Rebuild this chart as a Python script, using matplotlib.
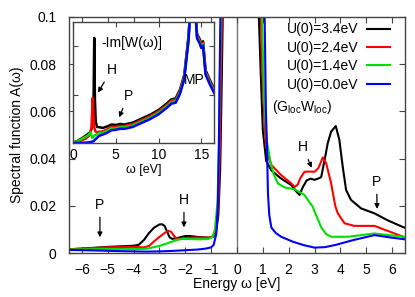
import matplotlib
matplotlib.use("Agg")
import matplotlib.pyplot as plt
import numpy as np

plt.rcParams["font.family"] = ["Liberation Sans", "DejaVu Sans"]
plt.rcParams["mathtext.fontset"] = "custom"
plt.rcParams["mathtext.rm"] = "Liberation Sans"

labels = ["U(0)=3.4eV", "U(0)=2.4eV", "U(0)=1.4eV", "U(0)=0.0eV"]
colors = ["#000000", "#ff0000", "#00e000", "#0000ff"]

# spectral function A(w)
w_black = [-6.5, -6.0, -5.0, -4.0, -3.8, -3.6, -3.4, -3.2, -3.0, -2.9, -2.8, -2.7, -2.6, -2.5, -2.3, -2.0,
           -1.8, -1.5, -1.2, -1.0, -0.9, -0.8, -0.72, -0.65, -0.6, -0.55, -0.5,
           0.8, 0.85, 0.91, 1.0, 1.13, 1.33, 1.7, 2.1, 2.3, 2.42, 2.55, 2.7, 2.85, 3.0, 3.2, 3.26, 3.4, 3.51,
           3.64, 3.82, 3.96, 4.09, 4.22, 4.41, 4.8, 5.32, 5.8, 6.4, 6.5]
a_black = [0.0016, 0.0019, 0.0026, 0.0031, 0.0035, 0.0055, 0.0085, 0.0108, 0.0121, 0.0122, 0.0115, 0.0090,
           0.0066, 0.0060, 0.0064, 0.0072, 0.0072, 0.0068, 0.0066, 0.0066, 0.0070, 0.0095, 0.016, 0.035,
           0.065, 0.1, 0.15,
           0.15, 0.099, 0.079, 0.052, 0.039, 0.035, 0.0316, 0.0288, 0.026, 0.0246, 0.028, 0.0308, 0.0315,
           0.031, 0.0318, 0.0323, 0.040, 0.0465, 0.0514, 0.0538, 0.0479, 0.0366, 0.0267, 0.0225, 0.0189,
           0.0168, 0.014, 0.0111, 0.0107]

w_red = [-6.5, -5.0, -4.0, -3.6, -3.4, -3.2, -3.0, -2.8, -2.65, -2.55, -2.45, -2.35, -2.2, -2.0, -1.5, -1.1,
         -0.9, -0.8, -0.72, -0.66, -0.62, -0.58, -0.53,
         0.85, 0.92, 1.0, 1.1, 1.2, 1.33, 1.71, 2.1, 2.23, 2.35, 2.45, 2.61, 2.8, 3.0, 3.15, 3.32, 3.45,
         3.64, 3.8, 3.9, 4.16, 4.54, 5.32, 5.8, 6.5]
a_red = [0.0016, 0.0024, 0.0026, 0.0024, 0.0030, 0.0050, 0.0068, 0.0085, 0.0094, 0.0090, 0.0075, 0.0062,
         0.0060, 0.0064, 0.0066, 0.0064, 0.0072, 0.011, 0.02, 0.045, 0.075, 0.1, 0.15,
         0.15, 0.1, 0.07, 0.048, 0.041, 0.0373, 0.033, 0.0295, 0.028, 0.029, 0.0317, 0.0344, 0.0345,
         0.0344, 0.036, 0.0405, 0.038, 0.0296, 0.020, 0.0168, 0.0126, 0.0115, 0.0115, 0.0095, 0.0066]

w_green = [-6.5, -5.0, -4.0, -3.5, -3.0, -2.6, -2.3, -2.1, -1.8, -1.4, -1.1, -0.95, -0.85, -0.75, -0.7,
           -0.66, -0.62, -0.57,
           0.9, 0.97, 1.05, 1.15, 1.27, 1.4, 1.58, 1.84, 2.23, 2.61, 2.93, 3.1, 3.25, 3.45, 3.64, 4.3,
           5.32, 6.5]
a_green = [0.0015, 0.0017, 0.0017, 0.0018, 0.0030, 0.0045, 0.0056, 0.0060, 0.0059, 0.0058, 0.0060,
           0.0068, 0.010, 0.022, 0.045, 0.075, 0.1, 0.15,
           0.15, 0.1, 0.065, 0.048, 0.040, 0.034, 0.0295, 0.0278, 0.027, 0.0246, 0.0196, 0.015, 0.0111,
           0.0080, 0.0069, 0.0069, 0.0083, 0.0068]

w_blue = [-6.5, -5.5, -4.5, -3.5, -3.0, -2.5, -2.0, -1.5, -1.2, -1.0, -0.9, -0.8, -0.74, -0.7, -0.67,
          -0.64, -0.6,
          1.0, 1.07, 1.12, 1.16, 1.2, 1.25, 1.33, 1.5, 1.71, 2.16, 2.6, 3.0, 3.4, 3.8, 4.5, 5.32, 6.0, 6.5]
a_blue = [0.0013, 0.0011, 0.0008, 0.0006, 0.0007, 0.0009, 0.0012, 0.0015, 0.0019, 0.0024, 0.0035,
          0.008, 0.02, 0.045, 0.075, 0.1, 0.15,
          0.15, 0.1, 0.06, 0.045, 0.025, 0.016, 0.0108, 0.0085, 0.0069, 0.0048, 0.0033, 0.0023, 0.0025,
          0.0034, 0.0055, 0.0076, 0.0065, 0.0058]

# inset: -Im W(w)
iw_black = [0, 0.5, 1.0, 1.6, 2.0, 2.3, 2.4, 2.48, 2.56, 2.65, 2.8, 3.5, 4.0, 4.5, 5.0, 5.5, 6.0, 7.0, 8.0,
            9.0, 10.0, 11.0, 11.5, 12.0, 12.5, 13.0, 13.5, 13.8, 14.2, 14.5, 14.8, 15.0, 15.2, 15.5, 16.0,
            16.5]
iv_black = [0.0, 0.04, 0.09, 0.165, 0.22, 0.35, 0.9, 2.17, 0.9, 0.45, 0.33, 0.31, 0.34, 0.38, 0.37,
            0.39, 0.38, 0.42, 0.50, 0.58, 0.68, 0.82, 0.90, 0.92, 1.10, 1.40, 2.20, 3.0, 3.0, 2.25, 2.15,
            2.05, 2.1, 1.5, 1.3, 1.12]
iw_red = [0, 0.5, 1.0, 1.5, 1.9, 2.15, 2.3, 2.45, 2.6, 2.8, 3.5, 4.0, 4.5, 5.0, 5.5, 6.0, 7.0, 8.0,
          9.0, 10.0, 11.0, 11.5, 12.0, 12.5, 13.0, 13.5, 13.8, 14.2, 14.5, 14.8, 15.0, 15.2, 15.5, 16.0,
          16.5]
iv_red = [0.0, 0.02, 0.05, 0.09, 0.15, 0.3, 0.93, 0.35, 0.24, 0.22, 0.24, 0.28, 0.33, 0.33, 0.35, 0.35,
          0.39, 0.47, 0.55, 0.65, 0.79, 0.87, 0.89, 1.07, 1.37, 2.17, 3.0, 3.0, 2.22, 2.12, 2.02, 2.07,
          1.47, 1.27, 1.09]
iw_green = [0, 0.5, 0.8, 1.3, 1.8, 2.05, 2.25, 2.5, 3.0, 3.5, 4.0, 4.5, 5.0, 5.5, 6.0, 7.0, 8.0, 9.0,
            10.0, 11.0, 11.5, 12.0, 12.5, 13.0, 13.5, 13.8, 14.2, 14.5, 14.8, 15.0, 15.2, 15.5, 16.0,
            16.5]
iv_green = [0.0, 0.03, 0.06, 0.11, 0.16, 0.22, 0.1, 0.15, 0.2, 0.21, 0.25, 0.30, 0.30, 0.32, 0.32, 0.36,
            0.44, 0.52, 0.62, 0.76, 0.84, 0.86, 1.04, 1.34, 2.14, 3.0, 3.0, 2.19, 2.09, 1.99, 2.04, 1.44,
            1.24, 1.06]
iw_blue = [0, 1.0, 1.8, 2.37, 3.0, 3.9, 4.5, 5.0, 5.5, 6.0, 7.0, 8.0, 9.0, 10.0, 11.0, 11.5, 12.0, 12.5,
           13.0, 13.5, 13.8, 14.2, 14.5, 14.8, 15.0, 15.2, 15.5, 16.0, 16.5]
iv_blue = [0.0, 0.0, 0.01, 0.03, 0.14, 0.2, 0.26, 0.27, 0.29, 0.29, 0.33, 0.41, 0.49, 0.59, 0.73, 0.81,
           0.83, 1.01, 1.31, 2.11, 3.0, 3.0, 2.16, 2.06, 1.96, 2.01, 1.41, 1.21, 1.03]

main_w = [w_black, w_red, w_green, w_blue]
main_a = [a_black, a_red, a_green, a_blue]
ins_w = [iw_black, iw_red, iw_green, iw_blue]
ins_v = [iv_black, iv_red, iv_green, iv_blue]

fig = plt.figure(figsize=(4.15, 2.97), dpi=100)
ax = fig.add_axes([0.166, 0.148, 0.81, 0.795])
frame = "#444444"

ax.axvline(0, color="#777777", lw=1.0, zorder=1)
for w, a, c, lab in zip(main_w, main_a, colors, labels):
    ax.plot(w, a, color=c, lw=1.5, label=lab, zorder=2)

ax.set_xlim(-6.5, 6.5)
ax.set_ylim(0, 0.1)
ax.set_xticks(range(-6, 7))
ax.set_yticks([0, 0.02, 0.04, 0.06, 0.08, 0.1])
ax.set_yticklabels(["0", "0.02", "0.04", "0.06", "0.08", "0.1"])
ax.tick_params(direction="in", top=True, right=True, length=4, width=0.8, color=frame, labelsize=10)
ax.tick_params(axis="x", pad=7)
ax.tick_params(axis="y", pad=9)
for s in ax.spines.values():
    s.set_color(frame)
    s.set_linewidth(1.0)
ax.set_xlabel("Energy ω [eV]", fontsize=10, labelpad=0)
ax.set_ylabel("Spectral function A(ω)", fontsize=10, labelpad=4)

leg = ax.legend(loc="upper right", bbox_to_anchor=(0.985, 1.018), frameon=False, markerfirst=False,
                fontsize=10, handlelength=1.7, handletextpad=0.6, labelspacing=0.32,
                borderaxespad=0.3)
ax.text(0.604, 0.619, r"(G$_{\rm loc}$W$_{\rm loc}$)", transform=ax.transAxes, fontsize=10,
        ha="left", va="center")

arrow = dict(arrowstyle="-|>", color="black", lw=0.9, mutation_scale=7)
ax.annotate("P", xy=(-5.3, 0.0055), xytext=(-5.3, 0.0205), ha="center", va="center", fontsize=10,
            arrowprops=arrow)
ax.annotate("H", xy=(-2.05, 0.0097), xytext=(-2.05, 0.0225), ha="center", va="center", fontsize=10,
            arrowprops=arrow)
ax.annotate("H", xy=(2.93, 0.035), xytext=(2.55, 0.0448), ha="center", va="center", fontsize=10,
            arrowprops=arrow)
ax.annotate("P", xy=(5.42, 0.0175), xytext=(5.4, 0.0302), ha="center", va="center", fontsize=10,
            arrowprops=arrow)

# inset
axi = fig.add_axes([0.176, 0.519, 0.340, 0.407])
for w, v, c in zip(ins_w, ins_v, colors):
    axi.plot(w, v, color=c, lw=1.8)
axi.set_xlim(0, 16.5)
axi.set_ylim(0, 2.5)
axi.set_xticks([0, 5, 10, 15])
axi.set_yticks([0, 1, 2])
axi.set_yticklabels([])
axi.tick_params(direction="in", top=True, right=True, length=3.5, width=0.8, color=frame,
                labelsize=10, pad=4)
for s in axi.spines.values():
    s.set_color(frame)
    s.set_linewidth(1.0)
axi.set_xlabel("ω [eV]", fontsize=9, labelpad=1)
axi.text(3.33, 2.06, "-Im[W(ω)]", fontsize=10, ha="left", va="center")
axi.annotate("H", xy=(2.75, 0.99), xytext=(4.5, 1.51), ha="center", va="center", fontsize=10,
             arrowprops=arrow)
axi.annotate("P", xy=(5.27, 0.475), xytext=(6.43, 0.97), ha="center", va="center", fontsize=10,
             arrowprops=arrow)
axi.text(14.2, 1.29, "MP", fontsize=10, ha="center", va="center")

fig.savefig("out.png", dpi=100)
